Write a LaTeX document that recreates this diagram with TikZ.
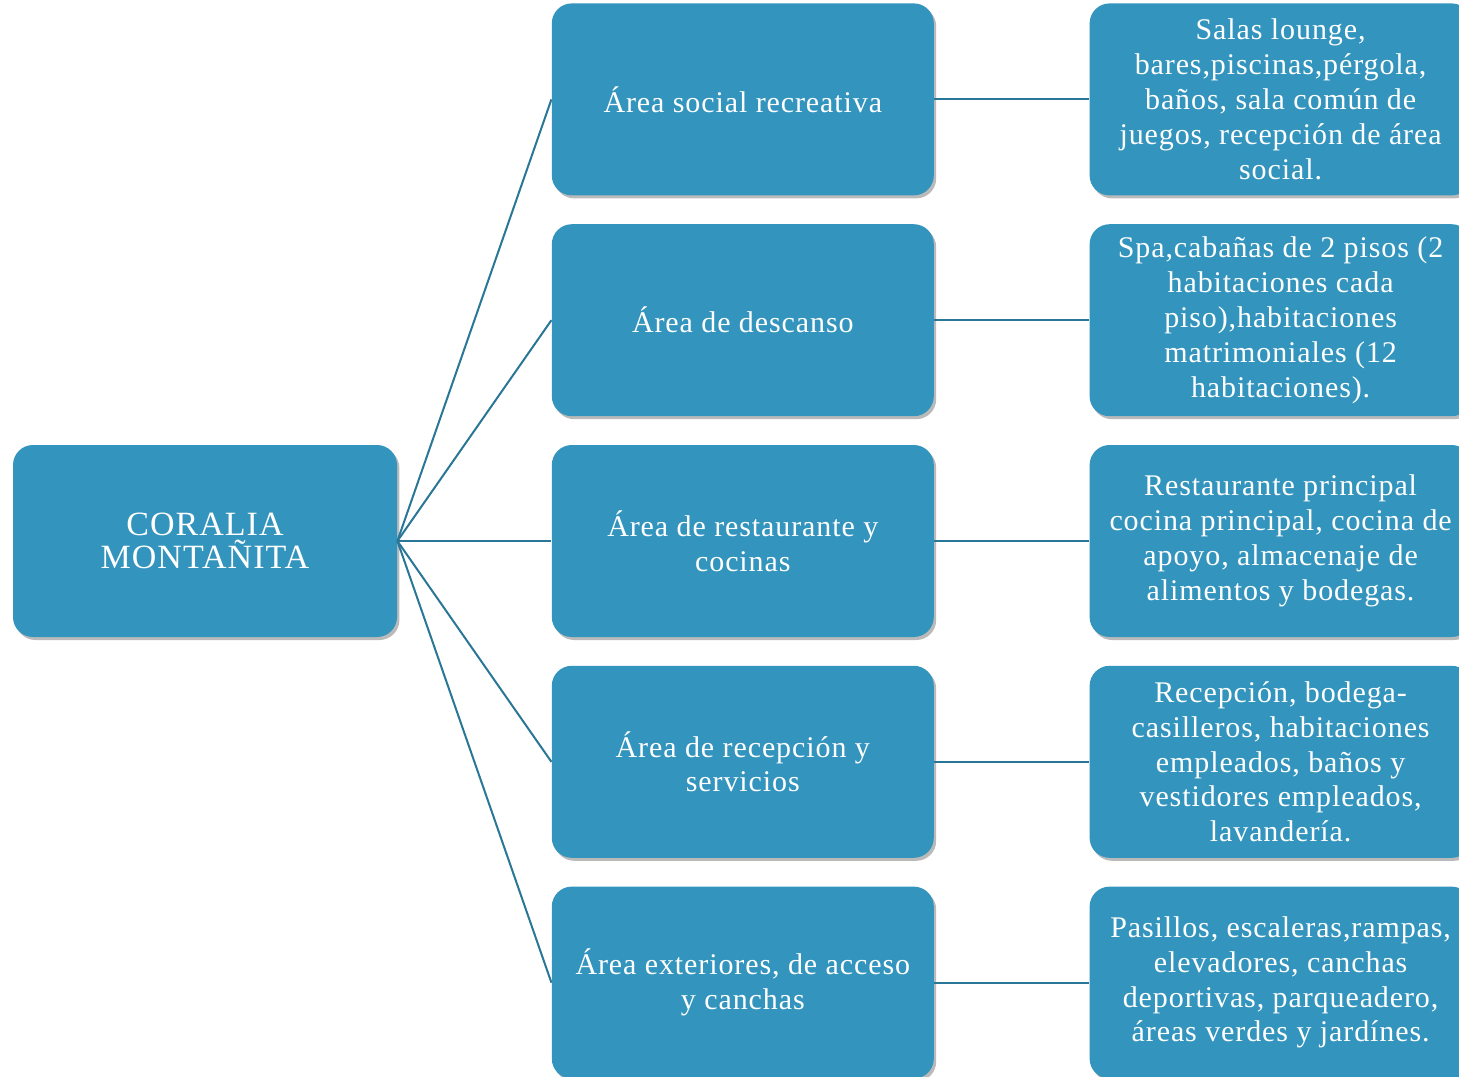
\documentclass[tikz,border=0pt]{standalone}
\usepackage{fontspec}
\setmainfont{Liberation Serif}[LetterSpace=3]
\usetikzlibrary{positioning,shadows}
\definecolor{boxblue}{RGB}{51,148,189}
\definecolor{linkblue}{RGB}{42,118,150}

\begin{document}
\begin{tikzpicture}[font=\fontsize{15}{17.4}\selectfont]
	\tikzset{area/.style={fill=boxblue, text=white, rounded corners=10pt, align=center,
			minimum width=191pt, minimum height=96pt, inner sep=1pt,
			drop shadow={shadow xshift=1.2pt, shadow yshift=-1.5pt, fill=black!45, opacity=.6}},
		link/.style={draw=linkblue, line width=1pt}
	}
	\useasboundingbox (0,0) rectangle (729.5pt,-538pt);
	\clip (0,0) rectangle (729.5pt,-538pt);
	\node [area, minimum width=192pt, font=\fontsize{17}{16.8}\selectfont] (root) at (102.5pt,-270.5pt) {CORALIA\\MONTAÑITA};
	\node [area, right = 77pt of root] (m3) {Área de restaurante y\\cocinas};
	\node [area, above = 14pt of m3] (m2) {Área de descanso};
	\node [area, above = 14pt of m2] (m1) {Área social recreativa};
	\node [area, below = 14pt of m3] (m4) {Área de recepción y\\servicios};
	\node [area, below = 14pt of m4] (m5) {Área exteriores, de acceso\\y canchas};
	\node [area, right = 77.5pt of m1] (d1) {Salas lounge,\\bares,piscinas,pérgola,\\baños, sala común de\\juegos, recepción de área\\social.};
	\node [area, right = 77.5pt of m2] (d2) {Spa,cabañas de 2 pisos (2\\habitaciones cada\\piso),habitaciones\\matrimoniales (12\\habitaciones).};
	\node [area, right = 77.5pt of m3] (d3) {Restaurante principal\\cocina principal, cocina de\\apoyo, almacenaje de\\alimentos y bodegas.};
	\node [area, right = 77.5pt of m4] (d4) {Recepción, bodega-\\casilleros, habitaciones\\empleados, baños y\\vestidores empleados,\\lavandería.};
	\node [area, right = 77.5pt of m5] (d5) {Pasillos, escaleras,rampas,\\elevadores, canchas\\deportivas, parqueadero,\\áreas verdes y jardínes.};
	% links from the root
	\draw [link] (root.east) -- (m1.west);
	\draw [link] (root.east) -- (m2.west);
	\draw [link] (root.east) -- (m3.west);
	\draw [link] (root.east) -- (m4.west);
	\draw [link] (root.east) -- (m5.west);
	% links to the details
	\draw [link] (m1.east) -- (d1.west);
	\draw [link] (m2.east) -- (d2.west);
	\draw [link] (m3.east) -- (d3.west);
	\draw [link] (m4.east) -- (d4.west);
	\draw [link] (m5.east) -- (d5.west);
\end{tikzpicture}
\end{document}
